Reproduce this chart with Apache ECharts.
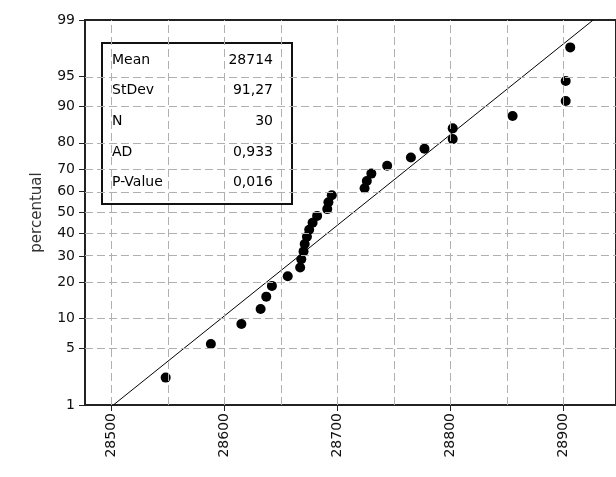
<!DOCTYPE html>
<html>
<head>
<meta charset="utf-8">
<script src="https://cdn.jsdelivr.net/npm/echarts@6/dist/echarts.min.js"></script>
<style>
html,body{margin:0;padding:0;background:#fff;}
#chart{width:616px;height:477px;}
</style>
</head>
<body>
<div id="chart"></div>
<script>
// ---- data ----
const xValues = [28548, 28588, 28615, 28632, 28637, 28642, 28656, 28667, 28668, 28670,
                 28671, 28673, 28675, 28678, 28682, 28691, 28692, 28695, 28724, 28726,
                 28730, 28744, 28765, 28777, 28802, 28802, 28855, 28902, 28902, 28906];
const percentValues = [2.30, 5.59, 8.88, 12.17, 15.46, 18.75, 22.04, 25.33, 28.62, 31.91,
                       35.20, 38.49, 41.78, 45.07, 48.36, 51.64, 54.93, 58.22, 61.51, 64.80,
                       68.09, 71.38, 74.67, 77.96, 81.25, 84.54, 87.83, 91.12, 94.41, 97.70];
const statLabels = ['Mean', 'StDev', 'N', 'AD', 'P-Value'];
const statValues = ['28714', '91,27', '30', '0,933', '0,016'];
const fitMean = 28714;
const fitStDev = 91.27;
const yTickPercents = [1, 5, 10, 20, 30, 40, 50, 60, 70, 80, 90, 95, 99];
const xTickValues = [28500, 28600, 28700, 28800, 28900];
const xGridValues = [28500, 28550, 28600, 28650, 28700, 28750, 28800, 28850, 28900];

// inverse standard normal CDF (Acklam)
function normInv(p) {
  const a = [-3.969683028665376e+01, 2.209460984245205e+02, -2.759285104469687e+02,
             1.383577518672690e+02, -3.066479806614716e+01, 2.506628277459239e+00];
  const b = [-5.447609879822406e+01, 1.615858368580409e+02, -1.556989798598866e+02,
             6.680131188771972e+01, -1.328068155288572e+01];
  const c = [-7.784894002430293e-03, -3.223964580411365e-01, -2.400758277161838e+00,
             -2.549732539343734e+00, 4.374664141464968e+00, 2.938163982698783e+00];
  const d = [7.784695709041462e-03, 3.224671290700398e-01, 2.445134137142996e+00,
             3.754408661907416e+00];
  const pl = 0.02425, ph = 1 - pl;
  let q, r;
  if (p < pl) {
    q = Math.sqrt(-2 * Math.log(p));
    return (((((c[0]*q+c[1])*q+c[2])*q+c[3])*q+c[4])*q+c[5]) / ((((d[0]*q+d[1])*q+d[2])*q+d[3])*q+1);
  } else if (p <= ph) {
    q = p - 0.5; r = q * q;
    return (((((a[0]*r+a[1])*r+a[2])*r+a[3])*r+a[4])*r+a[5])*q / (((((b[0]*r+b[1])*r+b[2])*r+b[3])*r+b[4])*r+1);
  } else {
    q = Math.sqrt(-2 * Math.log(1 - p));
    return -(((((c[0]*q+c[1])*q+c[2])*q+c[3])*q+c[4])*q+c[5]) / ((((d[0]*q+d[1])*q+d[2])*q+d[3])*q+1);
  }
}

const yTickZ = yTickPercents.map(p => normInv(p / 100));
const zMin = yTickZ[0], zMax = yTickZ[yTickZ.length - 1];
const points = xValues.map((x, i) => [x, normInv(percentValues[i] / 100)]);
const fitLine = [[fitMean + fitStDev * zMin, zMin], [fitMean + fitStDev * zMax, zMax]];

function zLabel(v) {
  let best = 0, bd = Infinity;
  yTickZ.forEach((z, i) => { const dd = Math.abs(z - v); if (dd < bd) { bd = dd; best = i; } });
  return String(yTickPercents[best]);
}

const FONT = 'DejaVu Sans';
const chart = echarts.init(document.getElementById('chart'), null, {renderer: 'canvas'});

const gridStyle = {color: '#b0b0b0', width: 1, type: [8, 4]};
const markData = []
  .concat(xGridValues.map(v => ({xAxis: v})))
  .concat(yTickZ.slice(1, -1).map(z => ({yAxis: z})));

const statChildren = [];
statLabels.forEach((lab, i) => {
  statChildren.push({type: 'text', x: 112, y: 60 + i * 30.7,
    style: {text: lab, font: '14px "' + FONT + '"', fill: '#000', textVerticalAlign: 'middle', textAlign: 'left'}});
  statChildren.push({type: 'text', x: 273, y: 60 + i * 30.7,
    style: {text: statValues[i], font: '14px "' + FONT + '"', fill: '#000', textVerticalAlign: 'middle', textAlign: 'right'}});
});

chart.setOption({
  animation: false,
  backgroundColor: '#ffffff',
  grid: {left: 85, top: 20, right: -6, bottom: 72, show: true, borderColor: '#222', borderWidth: 2, backgroundColor: 'transparent'},
  xAxis: {
    type: 'value',
    min: 28476.6,
    max: 28946.5,
    axisLine: {show: true, onZero: false, lineStyle: {color: '#222', width: 2}},
    axisTick: {show: true, length: 6, lineStyle: {color: '#222'}, customValues: xTickValues},
    axisLabel: {customValues: xTickValues, rotate: 90, margin: 8, fontFamily: FONT, fontSize: 14, color: '#111',
                formatter: v => String(Math.round(v))},
    splitLine: {show: false}
  },
  yAxis: {
    type: 'value',
    min: zMin,
    max: zMax,
    name: 'percentual',
    nameLocation: 'middle',
    nameGap: 40,
    nameTextStyle: {fontFamily: FONT, fontSize: 15, color: '#333'},
    axisLine: {show: true, onZero: false, lineStyle: {color: '#222', width: 2}},
    axisTick: {show: true, length: 6, lineStyle: {color: '#222'}, customValues: yTickZ},
    axisLabel: {customValues: yTickZ, margin: 10, fontFamily: FONT, fontSize: 14, color: '#111', formatter: zLabel},
    splitLine: {show: false}
  },
  series: [
    {
      type: 'line', data: [], silent: true, z: 1,
      markLine: {silent: true, symbol: 'none', label: {show: false}, lineStyle: gridStyle, animation: false, data: markData}
    },
    {
      type: 'line', data: fitLine, symbol: 'none', silent: true, z: 3,
      lineStyle: {color: '#000', width: 1}
    },
    {
      type: 'scatter', data: points, symbol: 'circle', symbolSize: 10, z: 4,
      itemStyle: {color: '#000', opacity: 1}
    }
  ],
  graphic: [{
    type: 'group', z: 100,
    children: [{type: 'rect', shape: {x: 102, y: 43, width: 190, height: 161},
                style: {fill: '#fff', stroke: '#111', lineWidth: 2}}].concat(statChildren)
  }]
});
</script>
</body>
</html>
